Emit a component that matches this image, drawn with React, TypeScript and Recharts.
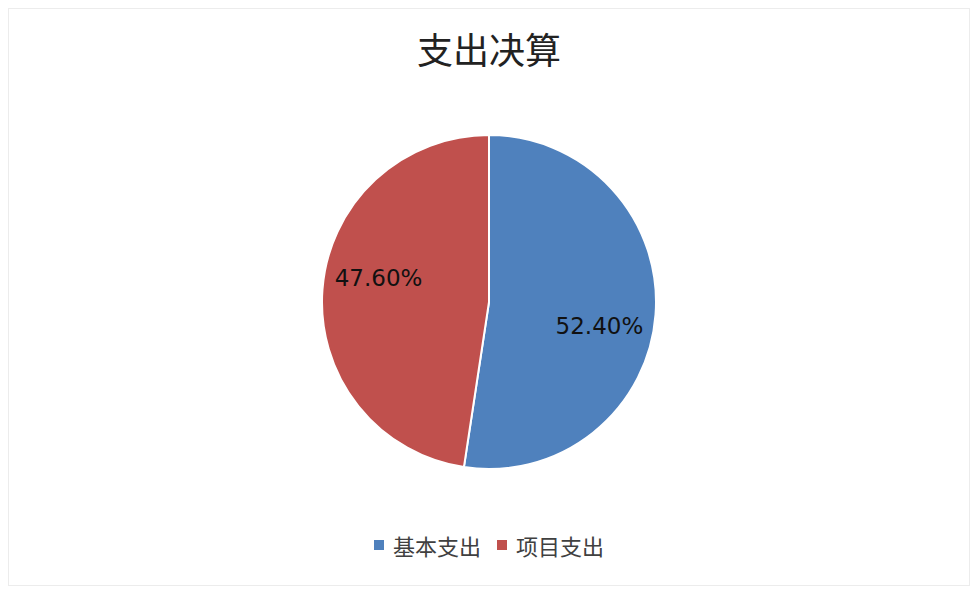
import React from 'react';
import { PieChart, Pie, Cell, Legend } from 'recharts';

const categories = ['基本支出', '项目支出'];
const shares = [52.4, 47.6];
const colors = ['#4F81BD', '#C0504D'];

const data = categories.map((name, i) => ({ name, value: shares[i] }));

const RADIAN = Math.PI / 180;

const renderLabel = (props: any) => {
  const { cx, cy, midAngle, outerRadius, percent } = props;
  // Excel's labels sit a bit clockwise of the slice middle
  const angle = (midAngle - 8) * RADIAN;
  const r = outerRadius * 0.677;
  const x = cx + r * Math.cos(angle);
  const y = cy - r * Math.sin(angle);
  return (
    <text
      x={x}
      y={y}
      textAnchor="middle"
      dominantBaseline="central"
      fill="#111"
      fontSize={23}
      fontFamily="DejaVu Sans, sans-serif"
    >
      {(percent * 100).toFixed(2)}%
    </text>
  );
};

const renderLegend = () => (
  <div
    style={{
      display: 'flex',
      justifyContent: 'center',
      alignItems: 'center',
      fontFamily: '"Noto Sans CJK SC", sans-serif',
      fontSize: 22,
      color: '#404040',
    }}
  >
    {categories.map((name, i) => (
      <div key={name} style={{ display: 'flex', alignItems: 'center', marginRight: i === 0 ? 16 : 0 }}>
        <span style={{ width: 10, height: 10, background: colors[i], display: 'inline-block', marginRight: 9 }} />
        <span>{name}</span>
      </div>
    ))}
  </div>
);

const App: React.FC = () => {
  return (
    <div
      style={{
        position: 'relative',
        width: 960,
        height: 576,
        border: '1px solid #ececec',
        background: '#fff',
      }}
    >
      <div
        style={{
          position: 'absolute',
          top: 14,
          left: 0,
          width: '100%',
          textAlign: 'center',
          fontFamily: '"Noto Sans CJK SC", sans-serif',
          fontSize: 36,
          color: '#222',
          lineHeight: '50px',
        }}
      >
        支出决算
      </div>
      <PieChart width={960} height={576} margin={{ top: 0, right: 0, bottom: 0, left: 0 }}>
        <Pie
          data={data}
          dataKey="value"
          nameKey="name"
          cx={480}
          cy={293}
          outerRadius={167}
          startAngle={90}
          endAngle={-270}
          stroke="#fff"
          strokeWidth={2}
          label={renderLabel}
          labelLine={false}
          isAnimationActive={false}
        >
          {data.map((d, i) => (
            <Cell key={d.name} fill={colors[i]} />
          ))}
        </Pie>
        <Legend
          content={renderLegend}
          verticalAlign="bottom"
          wrapperStyle={{ top: 520, bottom: 'auto', left: 0, width: 960 }}
        />
      </PieChart>
    </div>
  );
};

export default App;
